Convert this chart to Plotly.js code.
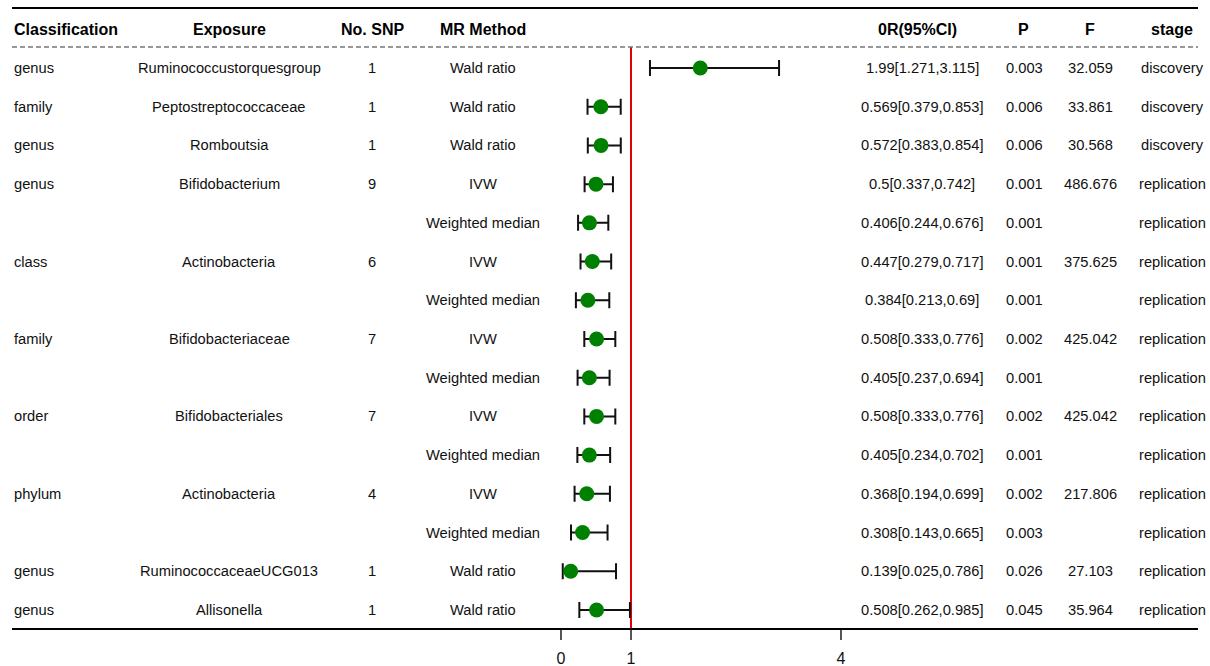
<!DOCTYPE html>
<html>
<head>
<meta charset="utf-8">
<script src="https://cdn.plot.ly/plotly-3.0.1.min.js"></script>
<style>html,body{margin:0;padding:0;background:#fff;}#chart{width:1210px;height:666px;}</style>
</head>
<body>
<div id="chart"></div>
<script>
// ---- data ----
const classification = ["genus","family","genus","genus","","class","","family","","order","","phylum","","genus","genus"];
const exposure = ["Ruminococcustorquesgroup","Peptostreptococcaceae","Romboutsia","Bifidobacterium","","Actinobacteria","","Bifidobacteriaceae","","Bifidobacteriales","","Actinobacteria","","RuminococcaceaeUCG013","Allisonella"];
const nSNP = ["1","1","1","9","","6","","7","","7","","4","","1","1"];
const method = ["Wald ratio","Wald ratio","Wald ratio","IVW","Weighted median","IVW","Weighted median","IVW","Weighted median","IVW","Weighted median","IVW","Weighted median","Wald ratio","Wald ratio"];
const orVal = [1.99,0.569,0.572,0.5,0.406,0.447,0.384,0.508,0.405,0.508,0.405,0.368,0.308,0.139,0.508];
const ciLow = [1.271,0.379,0.383,0.337,0.244,0.279,0.213,0.333,0.237,0.333,0.234,0.194,0.143,0.025,0.262];
const ciHigh = [3.115,0.853,0.854,0.742,0.676,0.717,0.69,0.776,0.694,0.776,0.702,0.699,0.665,0.786,0.985];
const pVal = ["0.003","0.006","0.006","0.001","0.001","0.001","0.001","0.002","0.001","0.002","0.001","0.002","0.003","0.026","0.045"];
const fVal = ["32.059","33.861","30.568","486.676","","375.625","","425.042","","425.042","","217.806","","27.103","35.964"];
const stage = ["discovery","discovery","discovery","replication","replication","replication","replication","replication","replication","replication","replication","replication","replication","replication","replication"];
const headers = ["Classification","Exposure","No. SNP","MR Method","0R(95%CI)","P","F","stage"];
const xTicks = [0,1,4];

// ---- layout helpers ----
const W = 1210, H = 666, ML = 12, MR = 12, MB = 38;
const rowIdx = orVal.map((_, i) => i);
const px2paper = p => (p - ML) / (W - ML - MR);
const FONT = "Liberation Sans, Arial, sans-serif";

const orText = orVal.map((v, i) => v + "[" + ciLow[i] + "," + ciHigh[i] + "]");

const cols = [
  {vals: classification, x: 12, anchor: "left"},
  {vals: exposure, x: 229, anchor: "center"},
  {vals: nSNP, x: 372, anchor: "center"},
  {vals: method, x: 483, anchor: "center"},
  {vals: orText, x: 922, anchor: "center"},
  {vals: pVal, x: 1024, anchor: "center"},
  {vals: fVal, x: 1090, anchor: "center"},
  {vals: stage, x: 1172, anchor: "center"}
];
const headerX = [12, 229, 372, 483, 917, 1023, 1090, 1172];

const annotations = [];
cols.forEach((c, ci) => {
  c.vals.forEach((t, i) => {
    if (t === "") return;
    annotations.push({x: px2paper(c.x), xref: "paper", y: i, yref: "y", text: t, showarrow: false,
      xanchor: c.anchor, yanchor: "middle", font: {family: FONT, size: 14.7, color: "#111"}});
  });
  annotations.push({x: px2paper(headerX[ci]), xref: "paper", y: -1.0, yref: "y", text: "<b>" + headers[ci] + "</b>",
    showarrow: false, xanchor: c.anchor, yanchor: "middle", font: {family: FONT, size: 16, color: "#000"}});
});

const trace = {
  type: "scatter", mode: "markers",
  x: orVal, y: rowIdx,
  marker: {color: "#008000", size: 15},
  error_x: {type: "data", symmetric: false,
    array: orVal.map((v, i) => ciHigh[i] - v),
    arrayminus: orVal.map((v, i) => v - ciLow[i]),
    color: "#111", thickness: 2, width: 8},
  hoverinfo: "skip", showlegend: false, cliponaxis: false
};

const layout = {
  width: W, height: H,
  margin: {l: ML, r: MR, t: 0, b: MB, pad: 0},
  paper_bgcolor: "#fff", plot_bgcolor: "#fff",
  showlegend: false,
  xaxis: {range: [(12 - 561) / 70, (1198 - 561) / 70], tickvals: xTicks, ticktext: xTicks.map(String),
    showgrid: false, zeroline: false, showline: true, linecolor: "#000", linewidth: 2,
    ticks: "outside", ticklen: 10, tickwidth: 1.5, tickcolor: "#555", ticklabelstandoff: 5,
    tickfont: {family: FONT, size: 16, color: "#111"}, fixedrange: true},
  yaxis: {range: [(628 - 68) / 38.71, -68 / 38.71], visible: false, showgrid: false, zeroline: false, fixedrange: true},
  shapes: [
    {type: "line", xref: "paper", x0: 0, x1: 1, yref: "y", y0: (8 - 68) / 38.71, y1: (8 - 68) / 38.71, line: {color: "#000", width: 2}},
    {type: "line", xref: "paper", x0: 0, x1: 1, yref: "y", y0: (47 - 68) / 38.71, y1: (47 - 68) / 38.71, line: {color: "#777", width: 1.5, dash: "5px,3px"}},
    {type: "line", xref: "x", x0: 1, x1: 1, yref: "y", y0: (47 - 68) / 38.71, y1: (628 - 68) / 38.71, line: {color: "#e00000", width: 2}, layer: "below"}
  ],
  annotations: annotations
};

Plotly.newPlot("chart", [trace], layout, {displayModeBar: false, staticPlot: true});
</script>
</body>
</html>
